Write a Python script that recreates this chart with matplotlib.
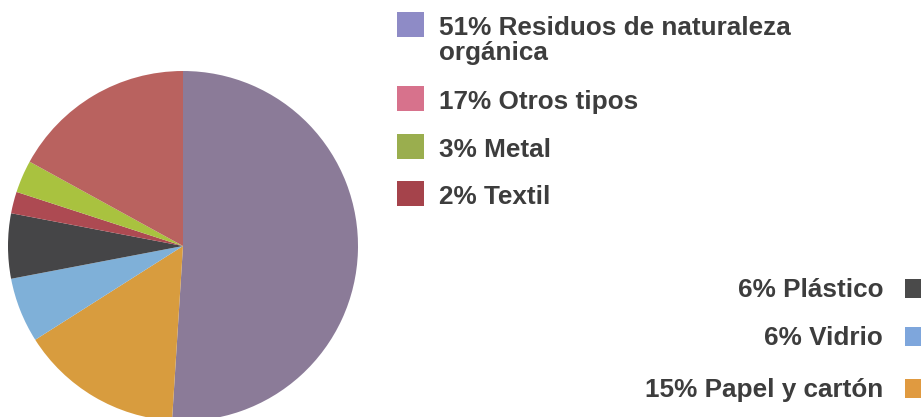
import matplotlib
matplotlib.use("Agg")
import matplotlib.pyplot as plt
from matplotlib.patches import Rectangle

# data, clockwise from 12 o'clock
labels = ["Residuos de naturaleza\norgánica", "Papel y cartón", "Vidrio",
          "Plástico", "Textil", "Metal", "Otros tipos"]
shares = [51, 15, 6, 6, 2, 3, 17]
pie_colors = ["#8b7b98", "#d89c3e", "#7fb0d8", "#454547",
              "#ad4a52", "#a9c23f", "#b9625f"]
key_colors = ["#8e8bc6", "#e09a40", "#7ea6dc", "#4a4a4a",
              "#a5434b", "#9aae4e", "#d7728c"]

# which legend block each slice goes in
left_keys = [0, 6, 5, 4]      # top-left list
right_keys = [3, 2, 1]        # bottom-right list, right aligned

W, H = 921, 417
fig = plt.figure(figsize=(W / 100, H / 100), dpi=100)
fig.patch.set_facecolor("white")

# pie axes: centre (183, 246) px, radius 175 px
cx, cy, r = 183, 246, 175
ax = fig.add_axes([(cx - r) / W, (H - cy - r) / H, 2 * r / W, 2 * r / H])
ax.pie(shares, colors=pie_colors, startangle=90, counterclock=False,
       radius=1, wedgeprops=dict(linewidth=0))
ax.set_xlim(-1, 1)
ax.set_ylim(-1, 1)
ax.set_aspect("equal")
ax.axis("off")

# overlay in pixel coords for the legend
lax = fig.add_axes([0, 0, 1, 1])
lax.set_xlim(0, W)
lax.set_ylim(H, 0)
lax.axis("off")

TXT = dict(fontsize=18.8, fontweight="bold", color="#3d3d3d",
           family="Liberation Sans")
LINE = 25   # px between wrapped lines

left_base = [35, 109, 157, 204]
for i, yb in zip(left_keys, left_base):
    lax.add_patch(Rectangle((397, yb - 23), 27, 25, color=key_colors[i],
                            linewidth=0, clip_on=False))
    lines = f"{shares[i]}% {labels[i]}".split("\n")
    for k, line in enumerate(lines):
        lax.text(439, yb + k * LINE, line, ha="left", va="baseline", **TXT)

right_base = [297, 345, 397]
for i, yb in zip(right_keys, right_base):
    lax.add_patch(Rectangle((905, yb - 18), 20, 19, color=key_colors[i],
                            linewidth=0, clip_on=False))
    lax.text(883, yb, f"{shares[i]}% {labels[i]}", ha="right", va="baseline",
             **TXT)

fig.savefig("out.png", dpi=100, facecolor="white")
